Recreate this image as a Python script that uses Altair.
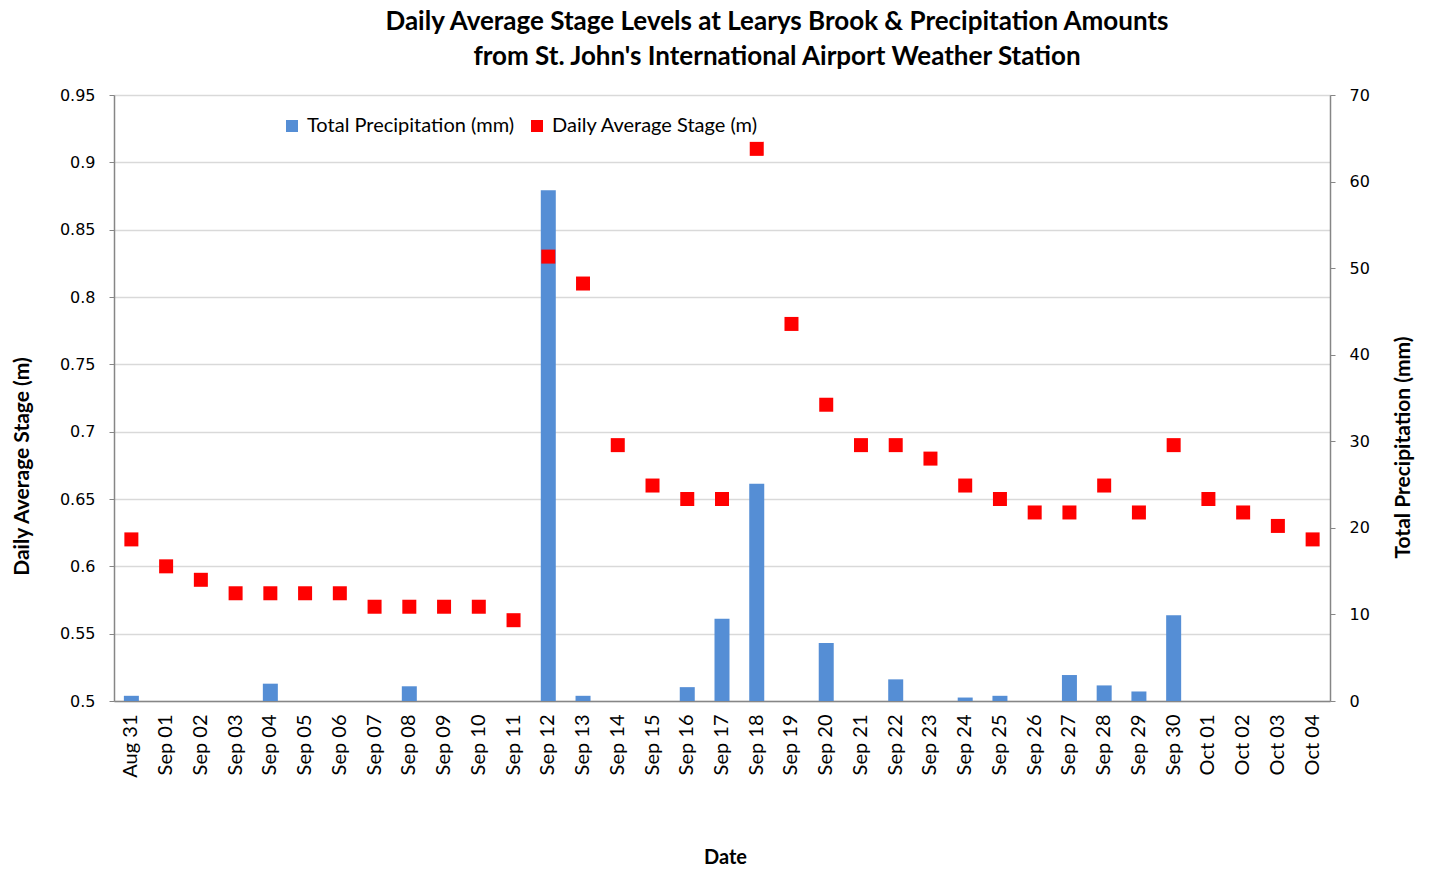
import altair as alt
import pandas as pd

dates = ["Aug 31", "Sep 01", "Sep 02", "Sep 03", "Sep 04", "Sep 05", "Sep 06", "Sep 07",
         "Sep 08", "Sep 09", "Sep 10", "Sep 11", "Sep 12", "Sep 13", "Sep 14", "Sep 15",
         "Sep 16", "Sep 17", "Sep 18", "Sep 19", "Sep 20", "Sep 21", "Sep 22", "Sep 23",
         "Sep 24", "Sep 25", "Sep 26", "Sep 27", "Sep 28", "Sep 29", "Sep 30", "Oct 01",
         "Oct 02", "Oct 03", "Oct 04"]
stage = [0.62, 0.60, 0.59, 0.58, 0.58, 0.58, 0.58, 0.57, 0.57, 0.57, 0.57, 0.56,
         0.83, 0.81, 0.69, 0.66, 0.65, 0.65, 0.91, 0.78, 0.72, 0.69, 0.69, 0.68,
         0.66, 0.65, 0.64, 0.64, 0.66, 0.64, 0.69, 0.65, 0.64, 0.63, 0.62]
precip = [0.6, 0, 0, 0, 2.0, 0, 0, 0, 1.7, 0, 0, 0,
          59.0, 0.6, 0, 0, 1.6, 9.5, 25.1, 0, 6.7, 0, 2.5, 0,
          0.4, 0.6, 0, 3.0, 1.8, 1.1, 9.9, 0, 0, 0, 0]

series = ["Total Precipitation (mm)", "Daily Average Stage (m)"]
colors = ["#558ED5", "#FF0000"]

df = pd.DataFrame({"date": dates, "stage": stage, "precip": precip})

FONT = "Lato"
AXIS_GRAY = "#868686"

x_axis = alt.Axis(
    title="Date", labelAngle=-90, labelAlign="right", labelBaseline="middle",
    labelFontSize=20, labelFont=FONT, labelColor="#000000", labelPadding=13,
    ticks=False, domainColor=AXIS_GRAY, domainWidth=1.5,
    titleFont=FONT, titleFontSize=20, titleFontWeight="bold", titleColor="#000000",
    titleX=611, titleY=156, titleBaseline="middle", titleAlign="center",
)
x_enc = alt.X("date:N", sort=dates, axis=x_axis,
              scale=alt.Scale(paddingInner=0, paddingOuter=0))

color_enc = alt.Color(
    "series:N",
    scale=alt.Scale(domain=series, range=colors),
    legend=alt.Legend(
        title=None, orient="none", legendX=168, legendY=21, direction="horizontal",
        columns=2, symbolType="square", symbolSize=144, symbolStrokeWidth=0,
        symbolOpacity=1, labelFont=FONT, labelFontSize=20, labelColor="#000000",
        labelOffset=5, columnPadding=12, padding=0, labelLimit=0,
    ),
)

bars = alt.Chart(df).transform_calculate(
    series="'Total Precipitation (mm)'"
).mark_bar(size=15).encode(
    x=x_enc,
    y=alt.Y("precip:Q",
            scale=alt.Scale(domain=[0, 70], nice=False),
            axis=alt.Axis(orient="right", values=list(range(0, 71, 10)), grid=False,
                          title="Total Precipitation (mm)", tickSize=5, labelPadding=14,
                          tickColor=AXIS_GRAY, domainColor=AXIS_GRAY, domainWidth=1.5,
                          labelFont="DejaVu Sans", labelFontSize=16, labelColor="#000000",
                          titleFont=FONT, titleFontSize=21, titleFontWeight="bold",
                          titleColor="#000000", titleAngle=270, titleX=73, titleY=352,
                          titleAlign="center", titleBaseline="middle")),
    color=color_enc,
)

points = alt.Chart(df).transform_calculate(
    series="'Daily Average Stage (m)'"
).mark_square(size=196, opacity=1, filled=True).encode(
    x=x_enc,
    y=alt.Y("stage:Q",
            scale=alt.Scale(domain=[0.5, 0.95], nice=False, zero=False),
            axis=alt.Axis(orient="left", values=[0.5, 0.55, 0.6, 0.65, 0.7, 0.75, 0.8, 0.85, 0.9, 0.95],
                          format=".2~f", grid=True, gridColor="#D9D9D9", gridWidth=1.5,
                          title="Daily Average Stage (m)", tickSize=5, labelPadding=14,
                          tickColor=AXIS_GRAY, domainColor=AXIS_GRAY, domainWidth=1.5,
                          labelFont="DejaVu Sans", labelFontSize=16, labelColor="#000000",
                          titleFont=FONT, titleFontSize=21, titleFontWeight="bold",
                          titleColor="#000000", titleAngle=270, titleX=-92, titleY=371,
                          titleAlign="center", titleBaseline="middle")),
    color=color_enc,
)

chart = alt.layer(bars, points).resolve_scale(y="independent").properties(
    width=1216, height=606,
    autosize=alt.AutoSizeParams(type="none"),
    padding={"left": 106, "top": 87, "right": 90, "bottom": 170},
    title=alt.TitleParams(
        text=["Daily Average Stage Levels at Learys Brook & Precipitation Amounts",
              "from St. John's  International Airport Weather Station"],
        font=FONT, fontSize=26, fontWeight="bold", color="#000000",
        anchor="middle", dx=55, offset=17, lineHeight=35,
    ),
).configure_view(stroke=None).configure(background="white")

chart.save("out.html", embed_options={"renderer": "svg", "actions": False})
